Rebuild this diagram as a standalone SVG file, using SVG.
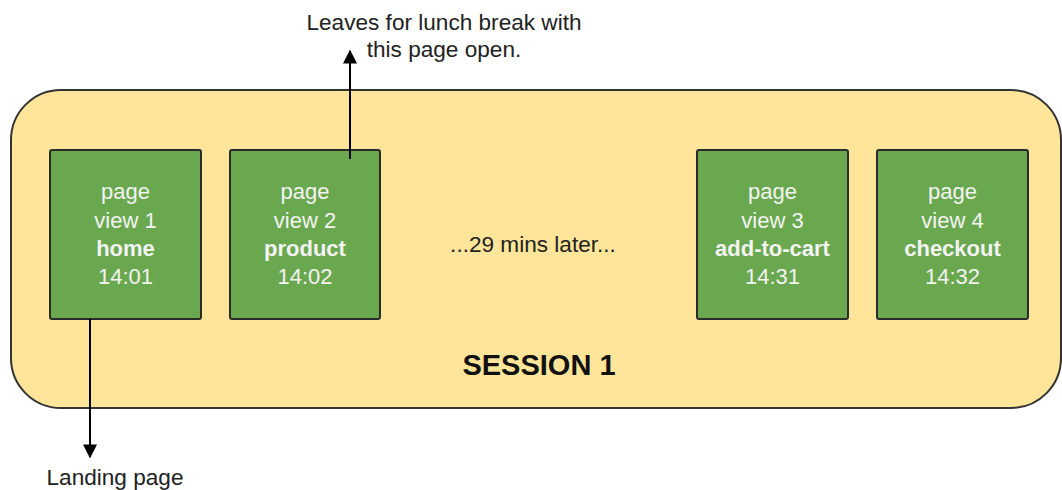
<svg xmlns="http://www.w3.org/2000/svg" width="1062" height="490" viewBox="0 0 1062 490">
  <style>
    .session { fill: #ffe599; stroke: #333333; stroke-width: 2; }
    .pv { fill: #6aa84f; stroke: #2b2b2b; stroke-width: 2; }
    .pvt { font-family: "Liberation Sans", Arial, sans-serif; font-size: 22px; fill: #f3f3f3; text-anchor: middle; }
    .b { font-weight: bold; }
    .note { font-family: "Liberation Sans", Arial, sans-serif; font-size: 22.6px; fill: #222222; text-anchor: middle; }
    .title { font-family: "Liberation Sans", Arial, sans-serif; font-size: 29px; font-weight: bold; fill: #111111; text-anchor: middle; }
    .conn { stroke: #000000; stroke-width: 2; fill: none; }
  </style>
  <defs>
    <marker id="arrow" viewBox="0 0 10 10" refX="9" refY="5" markerWidth="7" markerHeight="7" orient="auto" markerUnits="strokeWidth">
      <path d="M0,0 L10,5 L0,10 z" fill="#000000"/>
    </marker>
  </defs>

  <g id="session1">
    <rect class="session" x="11" y="90" width="1050" height="318" rx="50" ry="50"/>
    <text class="title" x="539" y="375">SESSION 1</text>
  </g>

  <g id="pageview1">
    <rect class="pv" x="50" y="150" width="151" height="169" rx="2"/>
    <text class="pvt" x="125.5" y="199">page</text>
    <text class="pvt" x="125.5" y="228">view 1</text>
    <text class="pvt b" x="125.5" y="256">home</text>
    <text class="pvt" x="125.5" y="284">14:01</text>
  </g>

  <g id="pageview2">
    <rect class="pv" x="230" y="150" width="150" height="169" rx="2"/>
    <text class="pvt" x="305" y="199">page</text>
    <text class="pvt" x="305" y="228">view 2</text>
    <text class="pvt b" x="305" y="256">product</text>
    <text class="pvt" x="305" y="284">14:02</text>
  </g>

  <g id="gap">
    <text class="note" x="533" y="252">...29 mins later...</text>
  </g>

  <g id="pageview3">
    <rect class="pv" x="697" y="150" width="151" height="169" rx="2"/>
    <text class="pvt" x="772.5" y="199">page</text>
    <text class="pvt" x="772.5" y="228">view 3</text>
    <text class="pvt b" x="772.5" y="256">add-to-cart</text>
    <text class="pvt" x="772.5" y="284">14:31</text>
  </g>

  <g id="pageview4">
    <rect class="pv" x="877" y="150" width="151" height="169" rx="2"/>
    <text class="pvt" x="952.5" y="199">page</text>
    <text class="pvt" x="952.5" y="228">view 4</text>
    <text class="pvt b" x="952.5" y="256">checkout</text>
    <text class="pvt" x="952.5" y="284">14:32</text>
  </g>

  <g id="lunch-note">
    <text class="note" x="444" y="30">Leaves for lunch break with</text>
    <text class="note" x="444" y="57">this page open.</text>
  </g>

  <g id="landing-note">
    <text class="note" x="115" y="485">Landing page</text>
  </g>

  <g id="connectors">
    <line class="conn" x1="350" y1="159" x2="350" y2="51" marker-end="url(#arrow)"/>
    <line class="conn" x1="90" y1="319" x2="90" y2="457" marker-end="url(#arrow)"/>
  </g>
</svg>
